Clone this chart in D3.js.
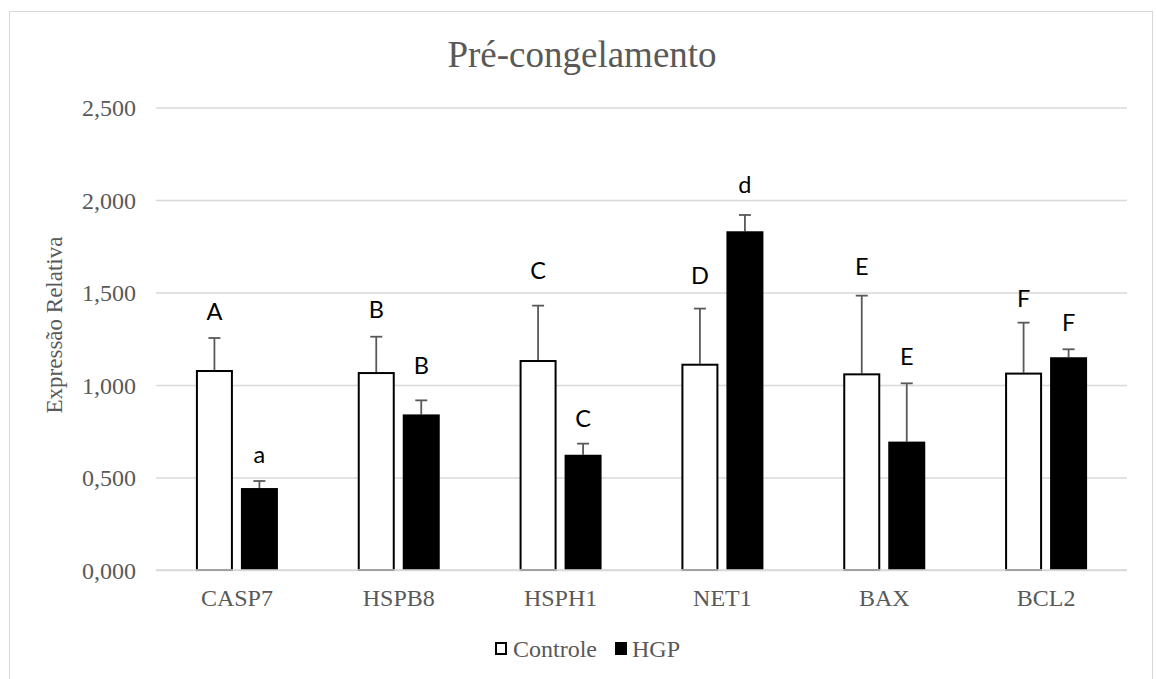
<!DOCTYPE html>
<html>
<head>
<meta charset="utf-8">
<script src="https://cdn.jsdelivr.net/npm/d3@7"></script>
<style>
  html, body { margin: 0; padding: 0; background: #fff; }
  svg { display: block; }
</style>
</head>
<body>
<svg id="chart" width="1157" height="679"></svg>
<script>
// ---- data ----
const categories = ["CASP7", "HSPB8", "HSPH1", "NET1", "BAX", "BCL2"];
const seriesNames = ["Controle", "HGP"];
const controleValues = [1.081, 1.070, 1.135, 1.115, 1.063, 1.067];
const controleErrors = [0.173, 0.191, 0.294, 0.298, 0.420, 0.270];
const hgpValues = [0.443, 0.841, 0.623, 1.831, 0.694, 1.150];
const hgpErrors = [0.038, 0.076, 0.060, 0.088, 0.315, 0.043];
const controleLetters = ["A", "B", "C", "D", "E", "F"];
const hgpLetters = ["a", "B", "C", "d", "E", "F"];
// letter baseline heights (in data units)
const controleLetterAt = [1.351, 1.361, 1.571, 1.544, 1.595, 1.420];
const hgpLetterAt = [0.578, 1.059, 0.775, 2.036, 1.108, 1.290];
const yTicks = [0, 0.5, 1.0, 1.5, 2.0, 2.5];
const yTickLabels = ["0,000", "0,500", "1,000", "1,500", "2,000", "2,500"];
const titleText = "Pré-congelamento";
const yAxisTitle = "Expressão Relativa";

// ---- layout ----
const svg = d3.select("#chart");
const plot = { left: 156, right: 1127, top: 107.5, bottom: 570 };
const textGray = "#595959";
const gridGray = "#d9d9d9";
const serif = "'Liberation Serif', 'Times New Roman', serif";
const sans = "Lato, 'Liberation Sans', Arial, sans-serif";

// chart border
svg.append("rect")
  .attr("x", 9.5).attr("y", 11.5)
  .attr("width", 1143).attr("height", 700)
  .attr("fill", "#fff").attr("stroke", gridGray).attr("stroke-width", 1);

const y = d3.scaleLinear().domain([0, 2.5]).range([plot.bottom, plot.top]);
const x0 = d3.scaleBand().domain(categories).range([plot.left, plot.right]).padding(0);
const groupW = 82;
const x1 = d3.scaleBand().domain(seriesNames).range([0, groupW]).paddingInner(8 / 45).paddingOuter(0);
const groupOffset = (x0.bandwidth() - groupW) / 2;

// gridlines
const yAxis = d3.axisLeft(y).tickValues(yTicks)
  .tickSize(-(plot.right - plot.left))
  .tickFormat((d, i) => yTickLabels[i]);
const gAxis = svg.append("g").attr("transform", `translate(${plot.left},0)`).call(yAxis);
gAxis.select(".domain").remove();
gAxis.selectAll(".tick line").attr("stroke", gridGray).attr("stroke-width", 1.3);
gAxis.selectAll(".tick text")
  .attr("x", -20)
  .attr("dy", "0.34em")
  .attr("fill", textGray)
  .style("font-family", serif)
  .style("font-size", "24px");

// data rows
const rows = [];
categories.forEach((c, i) => {
  rows.push({ cat: c, s: "Controle", v: controleValues[i], e: controleErrors[i], l: controleLetters[i], la: controleLetterAt[i] });
  rows.push({ cat: c, s: "HGP", v: hgpValues[i], e: hgpErrors[i], l: hgpLetters[i], la: hgpLetterAt[i] });
});
const bx = d => x0(d.cat) + groupOffset + x1(d.s);
const bw = x1.bandwidth();

// error bars
const eb = svg.append("g");
eb.selectAll("line.v").data(rows).join("line")
  .attr("x1", d => bx(d) + bw / 2).attr("x2", d => bx(d) + bw / 2)
  .attr("y1", d => y(d.v)).attr("y2", d => y(d.v + d.e))
  .attr("stroke", textGray).attr("stroke-width", 1.8);
eb.selectAll("line.c").data(rows).join("line")
  .attr("x1", d => bx(d) + bw / 2 - 6).attr("x2", d => bx(d) + bw / 2 + 6)
  .attr("y1", d => y(d.v + d.e)).attr("y2", d => y(d.v + d.e))
  .attr("stroke", textGray).attr("stroke-width", 1.8);

// bars
svg.append("g").selectAll("rect").data(rows).join("rect")
  .attr("x", d => d.s === "Controle" ? bx(d) + 1 : bx(d))
  .attr("y", d => d.s === "Controle" ? y(d.v) + 1 : y(d.v))
  .attr("width", d => d.s === "Controle" ? bw - 2 : bw)
  .attr("height", d => d.s === "Controle" ? y(0) - y(d.v) - 1 : y(0) - y(d.v))
  .attr("fill", d => d.s === "Controle" ? "#fff" : "#000")
  .attr("stroke", d => d.s === "Controle" ? "#000" : "none")
  .attr("stroke-width", 2);

// baseline redraw (light)
svg.append("line")
  .attr("x1", plot.left).attr("x2", plot.right)
  .attr("y1", y(0)).attr("y2", y(0))
  .attr("stroke", gridGray).attr("stroke-width", 1.3);

// letters
svg.append("g").selectAll("text").data(rows).join("text")
  .attr("x", d => bx(d) + bw / 2)
  .attr("y", d => y(d.la))
  .attr("text-anchor", "middle")
  .attr("fill", "#000")
  .style("font-family", sans)
  .style("font-size", "23.5px")
  .text(d => d.l);

// category labels
svg.append("g").selectAll("text").data(categories).join("text")
  .attr("x", d => x0(d) + x0.bandwidth() / 2)
  .attr("y", 606)
  .attr("text-anchor", "middle")
  .attr("fill", textGray)
  .style("font-family", serif)
  .style("font-size", "24px")
  .text(d => d);

// title
svg.append("text")
  .attr("x", 582).attr("y", 66.5)
  .attr("text-anchor", "middle")
  .attr("fill", textGray)
  .style("font-family", serif)
  .style("font-size", "37px")
  .text(titleText);

// y axis title
svg.append("text")
  .attr("transform", "translate(62,325) rotate(-90)")
  .attr("text-anchor", "middle")
  .attr("fill", textGray)
  .style("font-family", serif)
  .style("font-size", "23px")
  .text(yAxisTitle);

// legend
const legend = svg.append("g");
legend.append("rect").attr("x", 496).attr("y", 643).attr("width", 10).attr("height", 11)
  .attr("fill", "#fff").attr("stroke", "#000").attr("stroke-width", 2);
legend.append("text").attr("x", 513).attr("y", 657)
  .attr("fill", textGray).style("font-family", serif).style("font-size", "24px").text(seriesNames[0]);
legend.append("rect").attr("x", 615).attr("y", 642).attr("width", 12).attr("height", 13)
  .attr("fill", "#000");
legend.append("text").attr("x", 632).attr("y", 657)
  .attr("fill", textGray).style("font-family", serif).style("font-size", "24px").text(seriesNames[1]);
</script>
</body>
</html>
